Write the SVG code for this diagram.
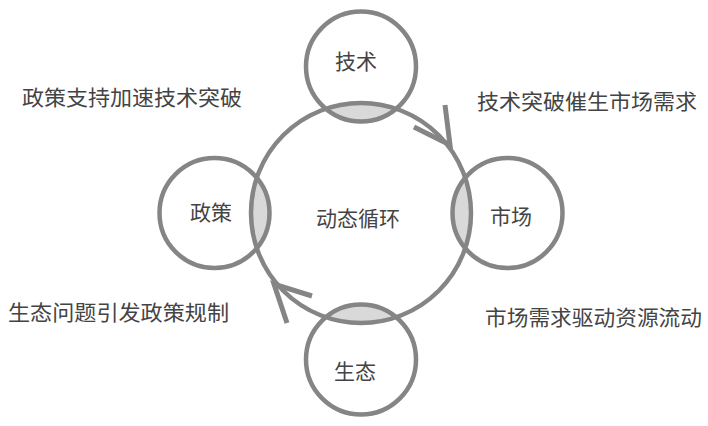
<svg xmlns="http://www.w3.org/2000/svg" width="708" height="426" viewBox="0 0 708 426">
<style>
.ring{fill:none;stroke:#858585;stroke-width:4.5}
.lens{fill:#d9d9d9}
.t{font-family:"Noto Sans CJK SC","Noto Sans",sans-serif;fill:#444;font-size:21px}
.n{text-anchor:middle}
.arr{fill:none;stroke:#858585;stroke-width:5;stroke-linecap:butt;stroke-linejoin:miter}
</style>
<defs>
<clipPath id="big"><circle cx="361" cy="213" r="110"/></clipPath>
</defs>
<rect width="708" height="426" fill="#fff"/>
<g id="lenses" clip-path="url(#big)">
<circle class="lens" cx="361" cy="66.5" r="55"/>
<circle class="lens" cx="507.5" cy="213" r="55"/>
<circle class="lens" cx="214.5" cy="213" r="55"/>
<circle class="lens" cx="361" cy="359.5" r="55"/>
</g>
<g id="cycle">
<circle class="ring" cx="361" cy="213" r="110"/>
<text class="t n" x="358" y="225.5">动态循环</text>
</g>
<g id="tech">
<circle class="ring" cx="361" cy="66.5" r="55"/>
<text class="t n" x="356" y="68.5">技术</text>
</g>
<g id="market">
<circle class="ring" cx="507.5" cy="213" r="55"/>
<text class="t n" x="511" y="223.5">市场</text>
</g>
<g id="policy">
<circle class="ring" cx="214.5" cy="213" r="55"/>
<text class="t n" x="211" y="219.5">政策</text>
</g>
<g id="eco">
<circle class="ring" cx="361" cy="359.5" r="55"/>
<text class="t n" x="355" y="378.5">生态</text>
</g>
<g id="connectors">
<path class="arr" d="M445,105 L450,145 L414,127"/>
<path class="arr" d="M312,296 L274,284 L287,323"/>
</g>
<g id="labels">
<text class="t" x="22" y="105" textLength="220" lengthAdjust="spacingAndGlyphs">政策支持加速技术突破</text>
<text class="t" x="477" y="108.5" textLength="220" lengthAdjust="spacingAndGlyphs">技术突破催生市场需求</text>
<text class="t" x="8" y="319.5" textLength="221" lengthAdjust="spacingAndGlyphs">生态问题引发政策规制</text>
<text class="t" x="485" y="325" textLength="217" lengthAdjust="spacingAndGlyphs">市场需求驱动资源流动</text>
</g>
</svg>
